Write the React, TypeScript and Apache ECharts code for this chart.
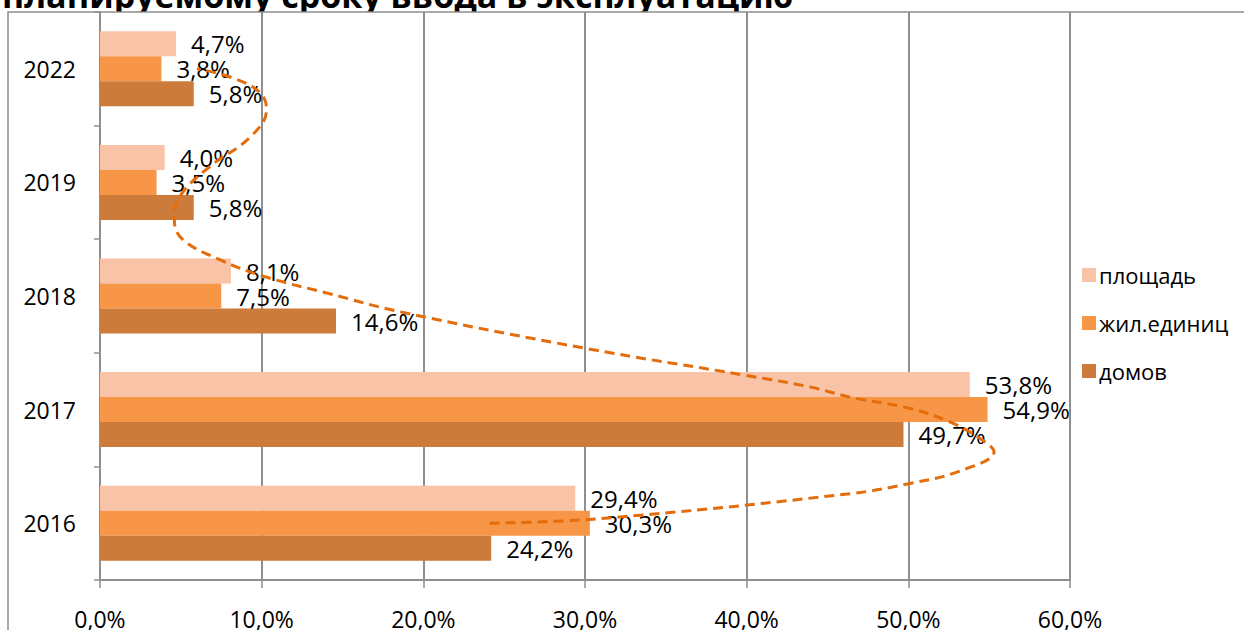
import React, { useEffect, useRef } from "react";
import * as echarts from "echarts";

const categories = ["2016", "2017", "2018", "2019", "2022"];
const seriesNames = ["площадь", "жил.единиц", "домов"];
const areaValues = [29.4, 53.8, 8.1, 4.0, 4.7];
const unitValues = [30.3, 54.9, 7.5, 3.5, 3.8];
const houseValues = [24.2, 49.7, 14.6, 5.8, 5.8];
const xTicks = [0, 10, 20, 30, 40, 50, 60];

// trend line (домов): x value in %, y in category index units
const trendX = [24.1, 30.9, 46.4, 50.1, 53.2, 55.3, 54.6, 52.6, 50.1, 46.4, 43.9, 40.0, 30.0, 18.6, 14.2, 10.2, 7.4, 5.1, 4.6, 4.9, 6.8, 9.3, 10.3, 9.9, 8.2, 6.0];
const trendY = [0.0, 0.04, 0.26, 0.35, 0.46, 0.63, 0.73, 0.89, 1.01, 1.11, 1.2, 1.3, 1.54, 1.86, 2.02, 2.17, 2.32, 2.5, 2.67, 2.87, 3.14, 3.4, 3.64, 3.79, 3.92, 4.0];

const titleText = "планируемому сроку ввода в эксплуатацию";

const colors = ["#F9C3A7", "#F79646", "#CC7B3B"];
const gridColor = "#8f8f8f";
const FONT = "'Open Sans', sans-serif";

const fmt = (v: number) => v.toFixed(1).replace(".", ",") + "%";

export default function App() {
  const ref = useRef<HTMLDivElement>(null);
  useEffect(() => {
    if (!ref.current) return;
    const chart = echarts.init(ref.current, undefined, { renderer: "svg" });
    const values = [areaValues, unitValues, houseValues];
    const barSeries = values.map((vals, i) => ({
      name: seriesNames[i],
      type: "bar",
      data: vals,
      barWidth: 25,
      barGap: "0%",
      itemStyle: { color: colors[i] },
      label: {
        show: true,
        position: "right",
        distance: 15,
        color: "#000",
        fontSize: 24,
        fontFamily: FONT,
        formatter: (p: any) => fmt(p.value),
      },
      xAxisIndex: 0,
      yAxisIndex: 0,
      z: 2,
    }));
    chart.setOption({
      animation: false,
      backgroundColor: "#fff",
      textStyle: { fontFamily: FONT },
      graphic: [
        {
          type: "text",
          x: 2,
          y: 12,
          z: -10,
          style: {
            text: titleText,
            font: "bold 34px 'Open Sans', sans-serif",
            fill: "#000",
            verticalAlign: "bottom",
          },
        },
        {
          type: "rect",
          z: -5,
          shape: { x: 8, y: 12, width: 1400, height: 800 },
          style: { fill: "#fff", stroke: gridColor, lineWidth: 1.5 },
          silent: true,
        },
      ],
      legend: {
        orient: "vertical",
        left: 1077,
        top: 259,
        itemWidth: 14,
        itemHeight: 14,
        itemGap: 26,
        icon: "rect",
        data: seriesNames,
        textStyle: { fontSize: 22, color: "#000", fontFamily: FONT, padding: [0, 0, 0, -2] },
      },
      grid: { left: 100, right: 174, top: 12, bottom: 46, containLabel: false },
      xAxis: [
        {
          type: "value",
          min: xTicks[0],
          max: xTicks[xTicks.length - 1],
          interval: 10,
          axisLine: { show: true, onZero: false, lineStyle: { color: gridColor, width: 2 } },
          axisTick: { show: true, length: 8, lineStyle: { color: gridColor, width: 1.5 } },
          splitLine: { show: true, lineStyle: { color: gridColor, width: 2 } },
          axisLabel: {
            margin: 27,
            fontSize: 23,
            color: "#000",
            fontFamily: FONT,
            formatter: (v: number) => fmt(v),
          },
        },
      ],
      yAxis: [
        {
          type: "category",
          data: categories,
          axisLine: { show: true, onZero: false, lineStyle: { color: gridColor, width: 2 } },
          axisTick: { show: true, length: 6, lineStyle: { color: gridColor, width: 1.5 } },
          axisLabel: { margin: 24, fontSize: 23, color: "#000", fontFamily: FONT },
        },
        {
          type: "value",
          min: -0.5,
          max: 4.5,
          show: false,
          splitLine: { show: false },
        },
      ],
      series: [
        ...barSeries,
        {
          type: "line",
          name: "trend",
          xAxisIndex: 0,
          yAxisIndex: 1,
          data: trendX.map((x, i) => [x, trendY[i]]),
          smooth: 0.4,
          symbol: "none",
          lineStyle: { color: "#E46C0A", width: 3, type: [10, 6] },
          z: 5,
          silent: true,
        },
      ],
    });
    return () => chart.dispose();
  }, []);
  return (
    <div
      ref={ref}
      style={{ position: "fixed", left: 0, top: 0, width: 1244, height: 630, background: "#fff" }}
    />
  );
}
